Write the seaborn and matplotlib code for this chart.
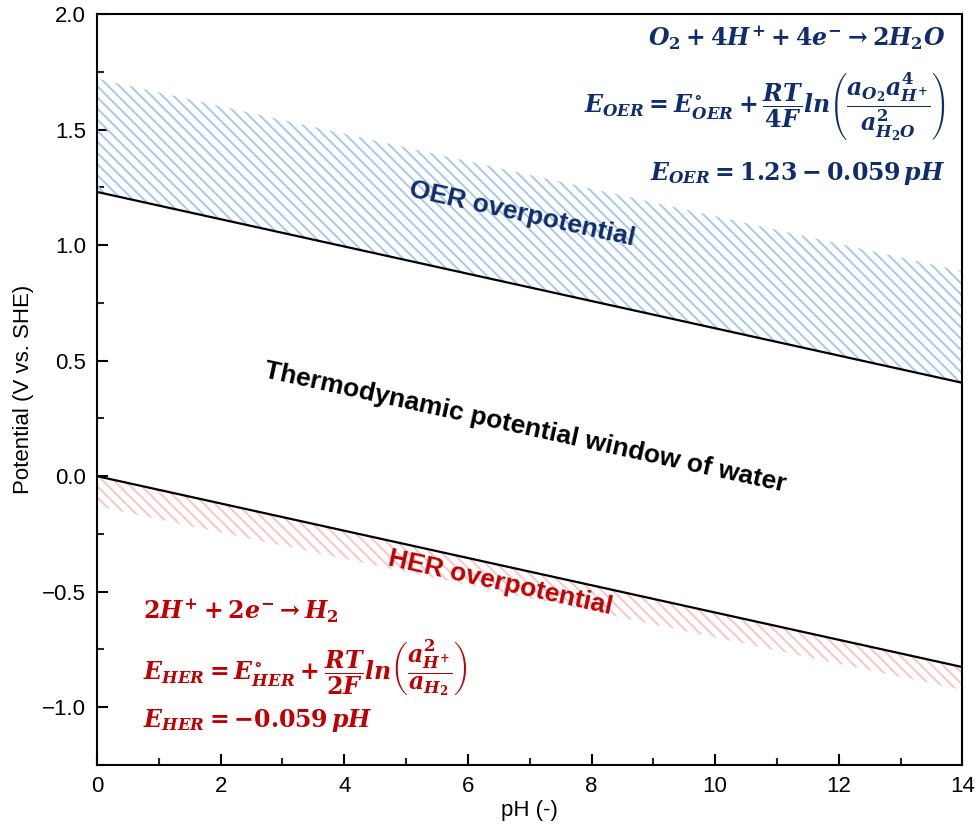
import numpy as np
import pandas as pd
import seaborn as sns
import matplotlib.pyplot as plt

# values
ph = [0, 14]
e_oer = [1.23, 0.404]
e_her = [0.0, -0.826]
oer_band_top = [1.72, 0.887]
her_band_bottom = [-0.13, -0.925]

sns.set_theme(style="ticks")
plt.rcParams['font.family'] = ['Liberation Sans', 'DejaVu Sans']
plt.rcParams['text.color'] = 'black'
plt.rcParams['axes.labelcolor'] = 'black'
plt.rcParams['mathtext.fontset'] = 'custom'
plt.rcParams['mathtext.rm'] = 'DejaVu Serif:bold'
plt.rcParams['mathtext.it'] = 'DejaVu Serif:italic:bold'
plt.rcParams['mathtext.bf'] = 'DejaVu Serif:bold'
plt.rcParams['hatch.linewidth'] = 1.4

navy = '#0f2d6e'
red = '#c00000'

df = pd.DataFrame({"pH": ph, "OER": e_oer, "HER": e_her})

fig = plt.figure(figsize=(9.8, 8.34), dpi=100)
ax = fig.add_axes([0.099, 0.0827, 0.883, 0.9005])

ax.fill_between(ph, e_oer, oer_band_top, facecolor='none', edgecolor='#a7c9eb',
                hatch='\\\\\\', linewidth=0)
ax.fill_between(ph, her_band_bottom, e_her, facecolor='none', edgecolor='#f8c6c6',
                hatch='\\\\\\', linewidth=0)

sns.lineplot(data=df, x="pH", y="OER", color='black', linewidth=1.6, ax=ax)
sns.lineplot(data=df, x="pH", y="HER", color='black', linewidth=1.6, ax=ax)

ax.set_xlim(0, 14)
ax.set_ylim(-1.25, 2.0)
ax.set_xticks(np.arange(0, 15, 2))
ax.set_xticks(np.arange(1, 14, 2), minor=True)
ax.set_yticks([-1.0, -0.5, 0.0, 0.5, 1.0, 1.5, 2.0])
ax.set_yticks(np.arange(-1.25, 2.0, 0.25), minor=True)
ax.set_yticklabels(['\u22121.0', '\u22120.5', '0.0', '0.5', '1.0', '1.5', '2.0'])
ax.tick_params(axis='both', which='major', direction='in', length=8, width=1.5,
               labelsize=16, pad=8, color='black', labelcolor='black')
ax.tick_params(axis='both', which='minor', direction='in', length=5, width=1.5)
for s in ax.spines.values():
    s.set_linewidth(1.5)
    s.set_color('black')

ax.set_xlabel("pH (-)", fontsize=16, labelpad=2, color='black')
ax.set_ylabel("Potential (V vs. SHE)", fontsize=16, labelpad=6, color='black')

ax.text(6.88, 1.135, "OER overpotential", color=navy, fontsize=19, fontweight='bold',
        rotation=-12.4, ha='center', va='center', rotation_mode='anchor')
ax.text(6.93, 0.21, "Thermodynamic potential window of water", color='black', fontsize=19,
        fontweight='bold', rotation=-12.4, ha='center', va='center', rotation_mode='anchor')
ax.text(6.52, -0.46, "HER overpotential", color=red, fontsize=19, fontweight='bold',
        rotation=-12.4, ha='center', va='center', rotation_mode='anchor')

eq_size = 17
ax.text(13.72, 1.895, r'$O_2+4H^{+}+4e^{-}\rightarrow 2H_2O$', color=navy,
        fontsize=eq_size, ha='right', va='center')
ax.text(13.72, 1.60,
        r'$E_{OER}=E^{\circ}_{OER}+\dfrac{RT}{4F}ln\left(\dfrac{a_{O_2}a^{4}_{H^{+}}}{a^{2}_{H_2O}}\right)$',
        color=navy, fontsize=eq_size, ha='right', va='center')
ax.text(13.72, 1.31, r'$E_{OER}=1.23-0.059\,pH$', color=navy,
        fontsize=eq_size, ha='right', va='center')

ax.text(0.745, -0.583, r'$2H^{+}+2e^{-}\rightarrow H_2$', color=red,
        fontsize=eq_size, ha='left', va='center')
ax.text(0.745, -0.83,
        r'$E_{HER}=E^{\circ}_{HER}+\dfrac{RT}{2F}ln\left(\dfrac{a^{2}_{H^{+}}}{a_{H_2}}\right)$',
        color=red, fontsize=eq_size, ha='left', va='center')
ax.text(0.745, -1.057, r'$E_{HER}=-0.059\,pH$', color=red,
        fontsize=eq_size, ha='left', va='center')

fig.savefig("out.png", dpi=100)
